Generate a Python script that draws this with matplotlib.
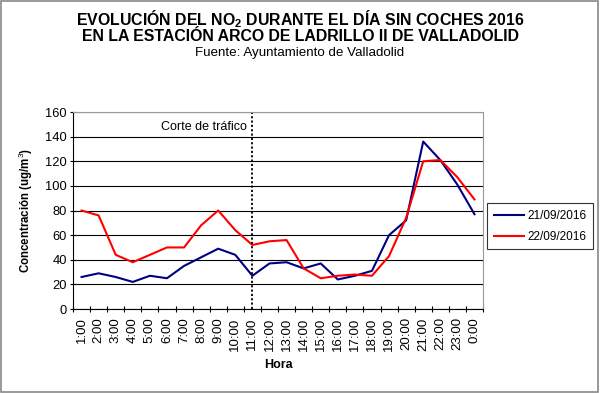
import matplotlib
matplotlib.use('Agg')
import matplotlib.pyplot as plt
from matplotlib.patches import Rectangle

plt.rcParams['font.family'] = ['Liberation Sans', 'DejaVu Sans']
plt.rcParams['mathtext.fontset'] = 'custom'
plt.rcParams['mathtext.rm'] = 'Liberation Sans'
plt.rcParams['mathtext.bf'] = 'Liberation Sans:bold'

# datos
horas = ['1:00', '2:00', '3:00', '4:00', '5:00', '6:00', '7:00', '8:00',
         '9:00', '10:00', '11:00', '12:00', '13:00', '14:00', '15:00', '16:00',
         '17:00', '18:00', '19:00', '20:00', '21:00', '22:00', '23:00', '0:00']
dia_21 = [26, 29, 26, 22, 27, 25, 35, 42, 49, 44, 27, 37,
          38, 33, 37, 24, 27, 31, 60, 72, 136, 121, 101, 77]
dia_22 = [80, 76, 44, 38, 44, 50, 50, 68, 80, 64, 52, 55,
          56, 33, 25, 27, 28, 27, 43, 74, 120, 121, 107, 89]
y_ticks = [0, 20, 40, 60, 80, 100, 120, 140, 160]
corte = '11:00'

fig = plt.figure(figsize=(6, 3.93), dpi=100)
fig.patches.append(Rectangle((0.002, 0.003), 0.995, 0.994, transform=fig.transFigure,
                             fill=False, edgecolor='#888888', linewidth=1.2))

ax = fig.add_axes([0.1217, 0.2137, 0.6833, 0.5013])
x = list(range(len(horas)))
ax.plot(x, dia_21, color='#000080', linewidth=1.5, label='21/09/2016')
ax.plot(x, dia_22, color='#ff0000', linewidth=1.5, label='22/09/2016')

ax.set_xlim(-0.5, len(horas) - 0.5)
ax.set_ylim(0, 160)
ax.set_yticks(y_ticks)
ax.yaxis.grid(True, color='black', linewidth=0.8)
ax.set_axisbelow(True)

# ticks entre categorías, etiquetas centradas
ax.set_xticks([i - 0.5 for i in range(len(horas) + 1)])
ax.set_xticklabels([])
ax.set_xticks(x, minor=True)
ax.set_xticklabels(horas, minor=True, rotation=90, fontsize=9.5)
ax.tick_params(axis='x', which='minor', length=0, pad=6)
ax.tick_params(axis='x', which='major', direction='inout', length=5, width=0.8)
ax.tick_params(axis='y', direction='inout', length=5, width=0.8, labelsize=9.3, pad=2)

for side in ['top', 'right']:
    ax.spines[side].set_color('#999999')
    ax.spines[side].set_linewidth(0.8)
for side in ['left', 'bottom']:
    ax.spines[side].set_color('black')
    ax.spines[side].set_linewidth(0.8)

xc = horas.index(corte)
ax.axvline(xc, color='black', linestyle=(0, (1.2, 1.2)), linewidth=1.3)
ax.text(xc - 0.3, 148, 'Corte de tráfico', ha='right', va='center', fontsize=9)

ax.set_xlabel('Hora', fontsize=9, fontweight='bold', labelpad=6)
ax.set_ylabel('Concentración (ug/m$^3$)', fontsize=8.3, fontweight='bold', labelpad=7)

leg = ax.legend(loc='center left', bbox_to_anchor=(1.01, 0.42), fontsize=8.5,
                frameon=True, fancybox=False, edgecolor='black', handlelength=2.6,
                borderpad=0.55, labelspacing=0.75, handletextpad=0.3, borderaxespad=0)
leg.get_frame().set_linewidth(0.8)

fig.text(0.5, 0.951, r'EVOLUCIÓN DEL NO$_\mathbf{2}$ DURANTE EL DÍA SIN COCHES 2016',
         ha='center', va='center', fontsize=11.4, fontweight='bold')
fig.text(0.5, 0.906, 'EN LA ESTACIÓN ARCO DE LADRILLO II DE VALLADOLID',
         ha='center', va='center', fontsize=11.4, fontweight='bold')
fig.text(0.5, 0.866, 'Fuente: Ayuntamiento de Valladolid', ha='center', va='center', fontsize=9.6)

fig.savefig('out.png', dpi=100)
